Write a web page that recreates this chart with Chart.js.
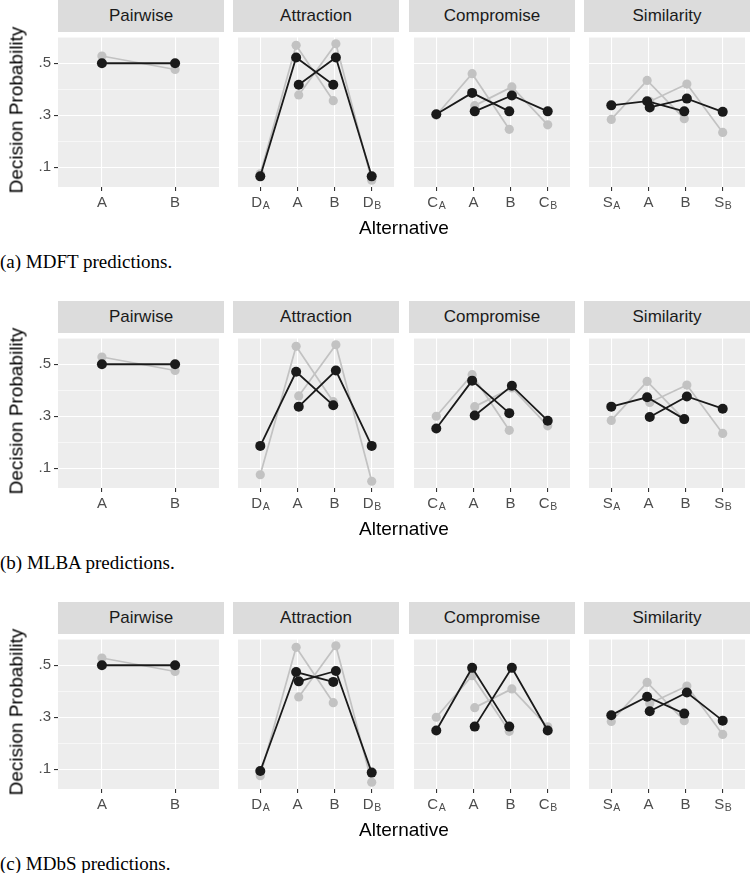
<!DOCTYPE html>
<html><head><meta charset="utf-8">
<script src="https://cdn.jsdelivr.net/npm/chart.js@4.4.1/dist/chart.umd.min.js"></script>
<style>
html,body{margin:0;padding:0;background:#fff;}
#root{position:relative;width:750px;height:873px;overflow:hidden;font-family:"Liberation Sans",Arial,sans-serif;}
.strip{position:absolute;background:#DCDCDC;color:#1A1A1A;font-size:17px;display:flex;align-items:center;justify-content:center;}
.cv{position:absolute;}
.xt{position:absolute;font-size:19px;color:#000;white-space:nowrap;transform:translate(-50%,-50%);line-height:1;}
.yt{position:absolute;font-size:19px;color:#000;white-space:nowrap;transform:translate(-50%,-50%) rotate(-90deg);line-height:1;}
.cap{position:absolute;left:0;font-family:"Liberation Serif","DejaVu Serif",serif;font-size:19px;color:#000;white-space:nowrap;transform:translateY(-50%);line-height:1;}
</style></head><body><div id="root"></div>
<script>
// ---------- text ----------
const FACETS = ['Pairwise', 'Attraction', 'Compromise', 'Similarity'];
const CAPTIONS = ['(a) MDFT predictions.', '(b) MLBA predictions.', '(c) MDbS predictions.'];
const X_TITLE = 'Alternative';
const Y_TITLE = 'Decision Probability';
const Y_TICK_VALUES = [0.1, 0.2, 0.3, 0.4, 0.5, 0.6];
const Y_TICK_LABELS = ['.1', '', '.3', '', '.5', ''];

// ---------- categories (base_subscript) ----------
const TICKS_PAIRWISE = ['A', 'B'];
const TICKS_ATTRACTION = ['D_A', 'A', 'B', 'D_B'];
const TICKS_COMPROMISE = ['C_A', 'A', 'B', 'C_B'];
const TICKS_SIMILARITY = ['S_A', 'A', 'B', 'S_B'];

// category positions of each choice set
const PAIR_X = [1, 2];
const SET1_X = [1, 2, 3];   // decoy/extreme for A, A, B
const SET2_X = [2, 3, 4];   // A, B, decoy/extreme for B

// ---------- observed data (grey) ----------
const OBS_PAIRWISE = [0.528, 0.476];
const OBS_ATTRACTION_SET1 = [0.075, 0.569, 0.356];
const OBS_ATTRACTION_SET2 = [0.378, 0.575, 0.050];
const OBS_COMPROMISE_SET1 = [0.300, 0.460, 0.246];
const OBS_COMPROMISE_SET2 = [0.337, 0.409, 0.263];
const OBS_SIMILARITY_SET1 = [0.284, 0.434, 0.287];
const OBS_SIMILARITY_SET2 = [0.353, 0.420, 0.234];

// ---------- MDFT predictions (black) ----------
const MDFT_PAIRWISE = [0.500, 0.500];
const MDFT_ATTRACTION_SET1 = [0.065, 0.522, 0.417];
const MDFT_ATTRACTION_SET2 = [0.417, 0.522, 0.065];
const MDFT_COMPROMISE_SET1 = [0.304, 0.386, 0.315];
const MDFT_COMPROMISE_SET2 = [0.315, 0.376, 0.315];
const MDFT_SIMILARITY_SET1 = [0.338, 0.354, 0.315];
const MDFT_SIMILARITY_SET2 = [0.330, 0.364, 0.313];

// ---------- MLBA predictions ----------
const MLBA_PAIRWISE = [0.500, 0.500];
const MLBA_ATTRACTION_SET1 = [0.186, 0.471, 0.342];
const MLBA_ATTRACTION_SET2 = [0.337, 0.476, 0.186];
const MLBA_COMPROMISE_SET1 = [0.253, 0.437, 0.312];
const MLBA_COMPROMISE_SET2 = [0.303, 0.417, 0.283];
const MLBA_SIMILARITY_SET1 = [0.337, 0.373, 0.289];
const MLBA_SIMILARITY_SET2 = [0.297, 0.376, 0.329];

// ---------- MDbS predictions ----------
const MDBS_PAIRWISE = [0.500, 0.500];
const MDBS_ATTRACTION_SET1 = [0.093, 0.474, 0.436];
const MDBS_ATTRACTION_SET2 = [0.438, 0.478, 0.087];
const MDBS_COMPROMISE_SET1 = [0.249, 0.490, 0.264];
const MDBS_COMPROMISE_SET2 = [0.264, 0.490, 0.249];
const MDBS_SIMILARITY_SET1 = [0.308, 0.379, 0.314];
const MDBS_SIMILARITY_SET2 = [0.323, 0.395, 0.287];

// ---------- assemble ----------
const TICKS = [TICKS_PAIRWISE, TICKS_ATTRACTION, TICKS_COMPROMISE, TICKS_SIMILARITY];
const OBS = [
  [OBS_PAIRWISE],
  [OBS_ATTRACTION_SET1, OBS_ATTRACTION_SET2],
  [OBS_COMPROMISE_SET1, OBS_COMPROMISE_SET2],
  [OBS_SIMILARITY_SET1, OBS_SIMILARITY_SET2]
];
const MODELS = [
  [[MDFT_PAIRWISE], [MDFT_ATTRACTION_SET1, MDFT_ATTRACTION_SET2], [MDFT_COMPROMISE_SET1, MDFT_COMPROMISE_SET2], [MDFT_SIMILARITY_SET1, MDFT_SIMILARITY_SET2]],
  [[MLBA_PAIRWISE], [MLBA_ATTRACTION_SET1, MLBA_ATTRACTION_SET2], [MLBA_COMPROMISE_SET1, MLBA_COMPROMISE_SET2], [MLBA_SIMILARITY_SET1, MLBA_SIMILARITY_SET2]],
  [[MDBS_PAIRWISE], [MDBS_ATTRACTION_SET1, MDBS_ATTRACTION_SET2], [MDBS_COMPROMISE_SET1, MDBS_COMPROMISE_SET2], [MDBS_SIMILARITY_SET1, MDBS_SIMILARITY_SET2]]
];

// ---------- layout / style ----------
const ROW_TOP = [0, 301, 602];
const STRIP_H = 32, PLOT_H = 155, X_AXIS_H = 32;
const PANEL_X = [58, 233, 409, 584], PANEL_W = 166, Y_AXIS_W = 58;
const DODGE = 0.035;
const Y_MIN = 0.024, Y_MAX = 0.601;
const BG = '#EDEDED', GRID = '#FFFFFF', AXIS_TXT = '#4D4D4D', TICK_COL = '#333333';
const GREY = '#C2C2C2', BLACK = '#1A1A1A';
const FONT = '"Liberation Sans", Arial, sans-serif';

const root = document.getElementById('root');
function addDiv(cls, text, css) {
  const d = document.createElement('div');
  d.className = cls; d.textContent = text;
  Object.assign(d.style, css); root.appendChild(d); return d;
}

function pts(values, setIdx, nSets) {
  const xs = nSets === 1 ? PAIR_X : (setIdx === 0 ? SET1_X : SET2_X);
  return values.map((v, i) => {
    let x = xs[i];
    if (nSets > 1 && (x === 2 || x === 3)) x += setIdx === 0 ? -DODGE : DODGE;
    return { x: x, y: v };
  });
}

const panelPlugin = {
  id: 'panelDeco',
  beforeDraw(chart) {
    const a = chart.chartArea, c = chart.ctx;
    c.save(); c.fillStyle = BG; c.fillRect(a.left, a.top, a.right - a.left, a.bottom - a.top); c.restore();
  },
  afterDraw(chart, args, opts) {
    const sc = chart.scales.x, c = chart.ctx, labels = opts.labels || [];
    const base = chart.chartArea.bottom + 20;
    c.save(); c.fillStyle = AXIS_TXT; c.textBaseline = 'alphabetic'; c.textAlign = 'left';
    sc.ticks.forEach(t => {
      const lab = labels[Math.round(t.value) - 1]; if (!lab) return;
      const parts = lab.split('_');
      const x = sc.getPixelForValue(t.value);
      c.font = '15px ' + FONT; const w1 = c.measureText(parts[0]).width;
      c.font = '10.5px ' + FONT; const w2 = parts[1] ? c.measureText(parts[1]).width : 0;
      const x0 = x - (w1 + w2) / 2;
      c.font = '15px ' + FONT; c.fillText(parts[0], x0, base);
      if (parts[1]) { c.font = '10.5px ' + FONT; c.fillText(parts[1], x0 + w1 + 0.5, base + 1.5); }
    });
    c.restore();
  }
};

function isMajor(v) { return Math.abs(v * 10 - 1) < 1e-6 || Math.abs(v * 10 - 3) < 1e-6 || Math.abs(v * 10 - 5) < 1e-6; }

for (let r = 0; r < 3; r++) {
  const top = ROW_TOP[r];
  for (let p = 0; p < 4; p++) {
    addDiv('strip', FACETS[p], { left: PANEL_X[p] + 'px', top: top + 'px', width: PANEL_W + 'px', height: STRIP_H + 'px' });
    const first = p === 0;
    const cvLeft = first ? PANEL_X[p] - Y_AXIS_W : PANEL_X[p];
    const cvW = PANEL_W + (first ? Y_AXIS_W : 0), cvH = PLOT_H + X_AXIS_H;
    const cv = document.createElement('canvas');
    cv.className = 'cv'; cv.width = cvW; cv.height = cvH;
    cv.style.left = cvLeft + 'px'; cv.style.top = (top + STRIP_H) + 'px';
    cv.style.width = cvW + 'px'; cv.style.height = cvH + 'px';
    root.appendChild(cv);

    const n = TICKS[p].length;
    const obsSets = OBS[p], modSets = MODELS[r][p];
    const datasets = [];
    modSets.forEach((vals, s) => datasets.push({
      label: 'model', data: pts(vals, s, modSets.length), order: 1,
      borderColor: BLACK, backgroundColor: BLACK, borderWidth: 1.8,
      pointRadius: 5, pointBackgroundColor: BLACK, pointBorderWidth: 0, pointHoverRadius: 5
    }));
    obsSets.forEach((vals, s) => datasets.push({
      label: 'data', data: pts(vals, s, obsSets.length), order: 2,
      borderColor: GREY, backgroundColor: GREY, borderWidth: 1.7,
      pointRadius: 4.6, pointBackgroundColor: GREY, pointBorderWidth: 0, pointHoverRadius: 4.6
    }));

    new Chart(cv, {
      type: 'line',
      data: { datasets: datasets },
      plugins: [panelPlugin],
      options: {
        responsive: false, animation: false, devicePixelRatio: 1, events: [],
        layout: { padding: 0 },
        plugins: { legend: { display: false }, tooltip: { enabled: false }, panelDeco: { labels: TICKS[p] } },
        elements: { line: { tension: 0 } },
        scales: {
          x: {
            type: 'linear', min: 0.4, max: n + 0.6,
            afterBuildTicks: s => { s.ticks = TICKS[p].map((_, i) => ({ value: i + 1 })); },
            afterFit: s => { s.height = X_AXIS_H; s.paddingLeft = 0; s.paddingRight = 0; },
            ticks: { display: false },
            border: { display: false },
            grid: { color: GRID, lineWidth: 1.1, drawTicks: true, tickLength: 4, tickColor: TICK_COL, tickWidth: 1.1 }
          },
          y: {
            type: 'linear', min: Y_MIN, max: Y_MAX,
            afterBuildTicks: s => { s.ticks = Y_TICK_VALUES.map(v => ({ value: v })); },
            afterFit: s => { s.width = first ? Y_AXIS_W : 0; s.paddingTop = 0; s.paddingBottom = 0; },
            ticks: {
              display: first, color: AXIS_TXT, font: { size: 15, family: FONT }, padding: 3,
              callback: v => { const i = Y_TICK_VALUES.findIndex(t => Math.abs(t - v) < 1e-6); return i >= 0 ? Y_TICK_LABELS[i] : ''; }
            },
            border: { display: false },
            grid: {
              color: GRID,
              lineWidth: c => (c.tick && isMajor(c.tick.value)) ? 1.1 : 0.55,
              drawTicks: first, tickLength: 4, tickWidth: 1.1,
              tickColor: c => (c.tick && isMajor(c.tick.value)) ? TICK_COL : 'rgba(0,0,0,0)'
            }
          }
        }
      }
    });
  }
  addDiv('xt', X_TITLE, { left: '404px', top: (top + 227) + 'px' });
  addDiv('yt', Y_TITLE, { left: '16px', top: (top + STRIP_H + PLOT_H / 2) + 'px' });
  addDiv('cap', CAPTIONS[r], { top: (top + 261) + 'px' });
}
</script></body></html>
